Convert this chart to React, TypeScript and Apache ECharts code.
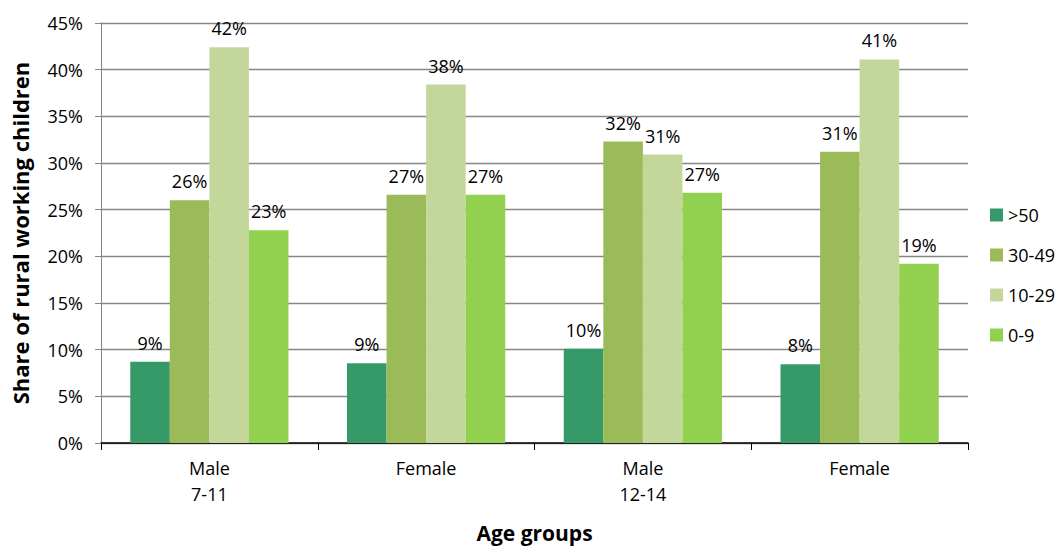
import React, { useEffect, useRef } from "react";
import * as echarts from "echarts";

const categories = ["Male\n7-11", "Female", "Male\n12-14", "Female"];
const seriesNames = [">50", "30-49", "10-29", "0-9"];
const over50 = [8.7, 8.55, 10.1, 8.45];
const from30to49 = [26.0, 26.6, 32.3, 31.2];
const from10to29 = [42.4, 38.4, 30.9, 41.1];
const from0to9 = [22.8, 26.6, 26.8, 19.2];
const yTicks = [0, 5, 10, 15, 20, 25, 30, 35, 40, 45];
const colors = ["#359968", "#9bbb59", "#c4d79b", "#92d050"];

const FONT = "'Open Sans', 'Liberation Sans', sans-serif";

export default function App() {
  const ref = useRef<HTMLDivElement>(null);
  useEffect(() => {
    document.body.style.margin = "0";
    const chart = echarts.init(ref.current!, undefined, { renderer: "svg" });
    const values = [over50, from30to49, from10to29, from0to9];
    chart.setOption({
      animation: false,
      textStyle: { fontFamily: FONT },
      grid: { left: 101, right: 90, top: 23, bottom: 105, containLabel: false, outerBoundsMode: "none" },
      legend: {
        orient: "vertical",
        left: 985,
        top: 201,
        itemWidth: 13,
        itemHeight: 13,
        itemGap: 22,
        icon: "rect",
        data: seriesNames,
        textStyle: { fontSize: 18, color: "#000", fontFamily: FONT },
      },
      xAxis: {
        type: "category",
        data: categories,
        name: "Age groups",
        nameLocation: "middle",
        nameGap: 79,
        nameTextStyle: { fontSize: 21, fontWeight: "bold", color: "#000", fontFamily: FONT },
        axisLine: { lineStyle: { color: "#000", width: 1.5 } },
        axisTick: { show: true, length: 7, lineStyle: { color: "#000" } },
        axisLabel: { fontSize: 18, color: "#000", lineHeight: 26, margin: 12, fontFamily: FONT },
      },
      yAxis: {
        type: "value",
        min: 0,
        max: 45,
        interval: 5,
        name: "Share of rural working children",
        nameLocation: "middle",
        nameGap: 70,
        nameTextStyle: { fontSize: 22, fontWeight: "bold", color: "#000", fontFamily: FONT },
        axisLine: { show: true, lineStyle: { color: "#868686" } },
        axisTick: { show: true, length: 6, lineStyle: { color: "#868686" } },
        splitLine: { lineStyle: { color: "#868686", width: 1.3 } },
        axisLabel: {
          fontSize: 18,
          color: "#000",
          margin: 18,
          fontFamily: FONT,
          formatter: (v: number) => (yTicks.includes(v) ? v + "%" : ""),
        },
      },
      series: seriesNames.map((name, i) => ({
        name,
        type: "bar",
        data: values[i],
        barGap: "0%",
        barCategoryGap: "27%",
        itemStyle: { color: colors[i] },
        label: {
          show: true,
          position: "top",
          distance: 10,
          fontSize: 18,
          color: "#000",
          fontFamily: FONT,
          formatter: (p: any) => Math.round(p.value) + "%",
        },
      })),
    });
    return () => chart.dispose();
  }, []);
  return <div ref={ref} style={{ width: 1058, height: 548 }} />;
}
